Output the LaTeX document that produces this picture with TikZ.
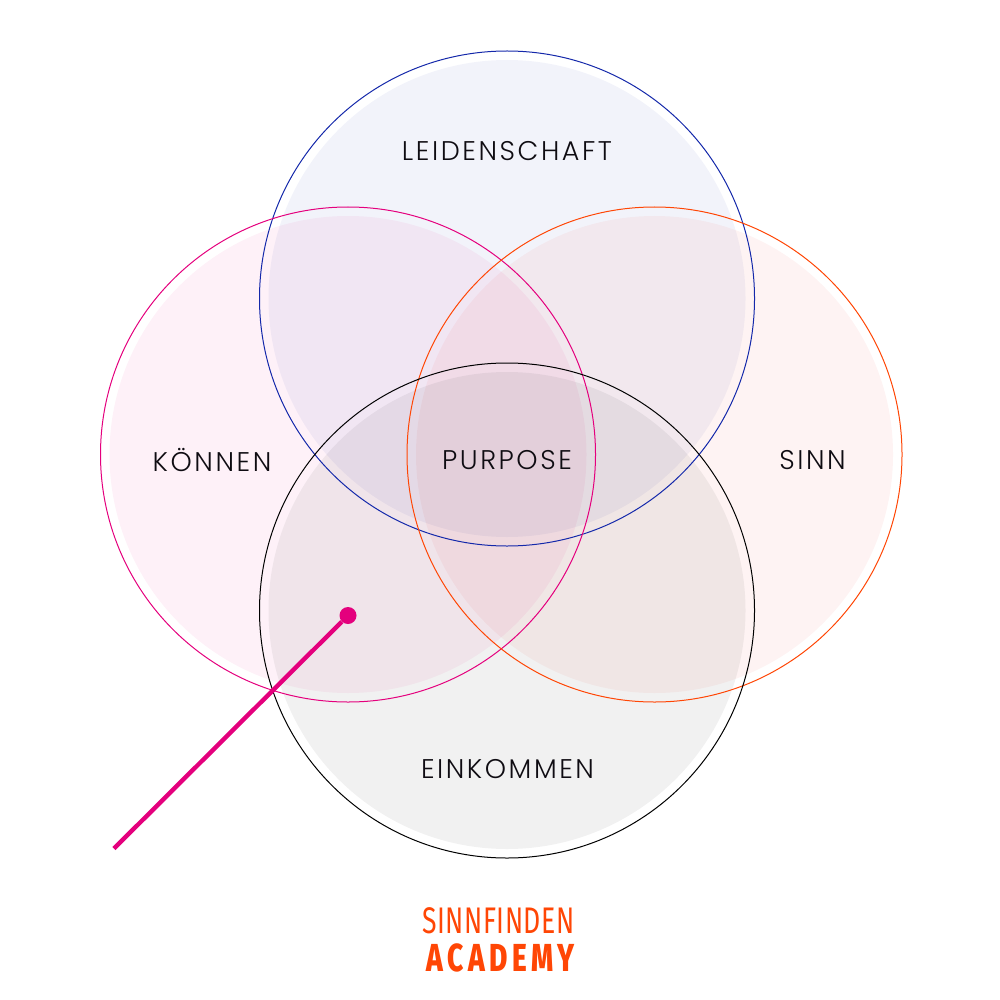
\documentclass[tikz,border=0pt]{standalone}
\usepackage{fontspec}
\usepackage{tikz}
\usetikzlibrary{positioning}
\setmainfont{Poppins}[UprightFont=* Light, BoldFont=* Medium]
\newfontfamily\labelfont[LetterSpace=9.5]{Poppins Light}
\newfontfamily\logofont[LetterSpace=2]{Fira Sans}
\newfontfamily\logoboldfont[LetterSpace=16]{Fira Sans ExtraBold}
\definecolor{ringblue}{RGB}{20,40,170}
\definecolor{ringpink}{RGB}{228,0,125}
\definecolor{ringorange}{RGB}{255,70,5}
\definecolor{areared}{RGB}{235,40,30}
\definecolor{labelink}{RGB}{15,12,18}

\begin{document}
\begin{tikzpicture}[
    x=1pt, y=-1pt,
    % Styles
    area/.style={circle, minimum size=477pt, inner sep=0pt, fill opacity=0.055},
    ring/.style={circle, minimum size=495pt, inner sep=0pt, line width=1pt},
    lbl/.style={font=\fontsize{27}{27}\selectfont\labelfont, text=labelink, inner sep=0pt},
    logo/.style={text=ringorange, inner sep=0pt, xscale=0.72}
]
\useasboundingbox (0, 0) rectangle (1000, 1000);

% 1. FILLED AREAS
\node[area, fill=ringblue] (area_top) at (507, 298.5) {};
\node[area, fill=ringpink] (area_left) at (348, 454.5) {};
\node[area, fill=areared] (area_right) at (654.5, 454.5) {};
\node[area, fill=black] (area_bottom) at (507, 610.5) {};

% 2. OUTLINES
\node[ring, draw=ringblue] (ring_top) at (507, 298.5) {};
\node[ring, draw=ringpink] (ring_left) at (348, 454.5) {};
\node[ring, draw=ringorange] (ring_right) at (654.5, 454.5) {};
\node[ring, draw=black] (ring_bottom) at (507, 610.5) {};

% 3. LABELS
\node[lbl] (leidenschaft) at (507, 151) {LEIDENSCHAFT};
\node[lbl] (koennen) at (212, 460) {KÖNNEN};
\node[lbl] (purpose) at (507, 460) {PURPOSE};
\node[lbl] (sinn) at (812.5, 460) {SINN};
\node[lbl] (einkommen) at (507.5, 769) {EINKOMMEN};

% 4. POINTER
\node[circle, fill=ringpink, minimum size=17pt, inner sep=0pt] (pin) at (348, 615.5) {};
\coordinate (pin_end) at (114, 848.5);
\draw[draw=ringpink, line width=4.4pt] (pin) -- (pin_end);

% 5. LOGO
\node[logo, font=\fontsize{37}{37}\selectfont\logofont] (logo_top) at (498.5, 921) {SINNFINDEN};
\node[logo, font=\fontsize{39}{39}\selectfont\logoboldfont] (logo_bottom) at (500.5, 958) {ACADEMY};

\end{tikzpicture}
\end{document}
